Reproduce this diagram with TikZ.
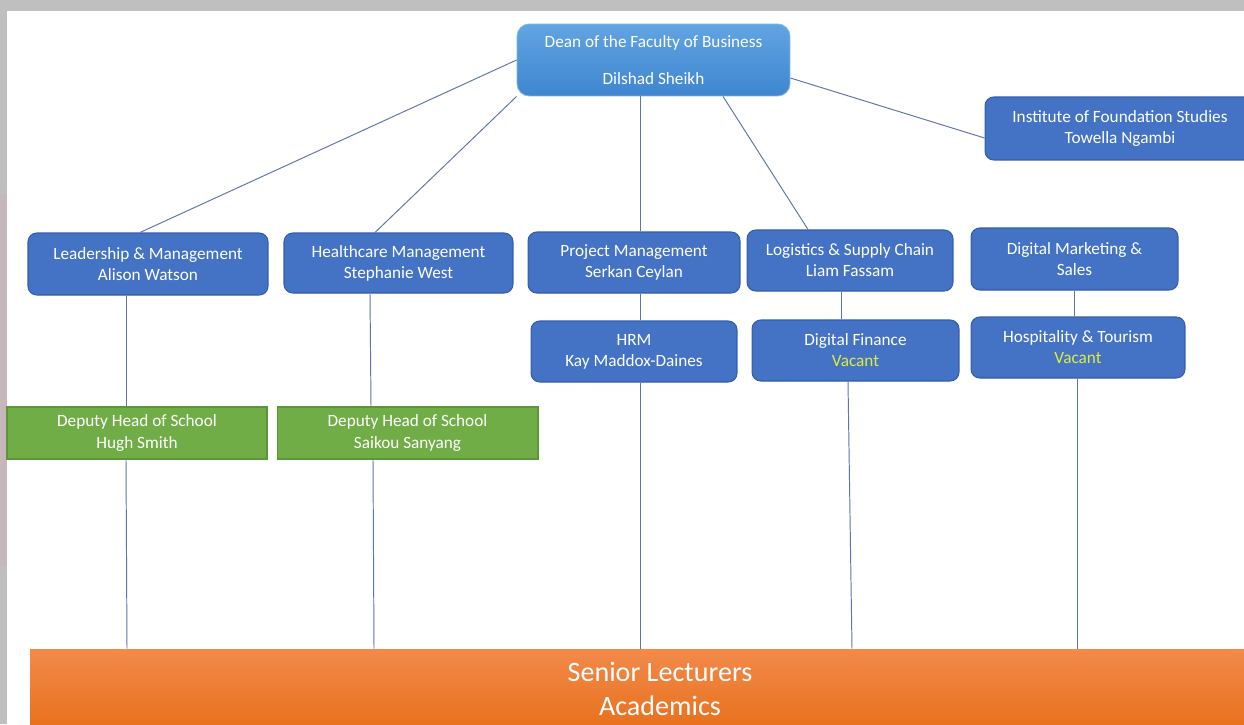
\documentclass[tikz,border=0pt]{standalone}
\usepackage{fontspec}
\setmainfont{Carlito}
\usepackage{xcolor}
\usetikzlibrary{positioning}
\definecolor{framegray}{RGB}{191, 191, 191}
\definecolor{framepink}{RGB}{198, 184, 186}
\definecolor{unitblue}{RGB}{68, 114, 196}
\definecolor{unitedge}{RGB}{52, 94, 170}
\definecolor{deantop}{RGB}{98, 164, 226}
\definecolor{deanbottom}{RGB}{62, 134, 208}
\definecolor{deputygreen}{RGB}{112, 173, 71}
\definecolor{deputyedge}{RGB}{92, 150, 56}
\definecolor{seniortop}{RGB}{242, 138, 74}
\definecolor{seniorbottom}{RGB}{232, 112, 28}
\definecolor{linkblue}{RGB}{96, 116, 172}
\definecolor{vacant}{RGB}{222, 238, 60}

\begin{document}
\begin{tikzpicture}[
    x=0.02cm, y=-0.02cm,
    every node/.style={font=\fontsize{9.8}{12}\selectfont, align=center, text=white, inner sep=2pt},
    unitbox/.style={draw=unitedge, fill=unitblue, rounded corners=5pt, minimum height=1.22cm, line width=0.6pt},
    deputybox/.style={draw=deputyedge, fill=deputygreen, minimum height=1.04cm, line width=0.6pt},
    link/.style={draw=linkblue, line width=0.55pt}
]

% Canvas and screen frame
\clip (0,0) rectangle (1244,724);
\fill[framegray] (0,0) rectangle (1244,724);
\fill[framepink] (0,195) rectangle (7,565);
\fill[white] (7,11) rectangle (1244,724);

% Top: Dean and Institute
\node[draw=deantop!80!white, top color=deantop, bottom color=deanbottom, rounded corners=7pt, minimum width=5.46cm, minimum height=1.44cm, line width=0.5pt] (dean) at (653.5,60) {Dean of the Faculty of Business\\[9pt]Dilshad Sheikh};
\node[unitbox, minimum width=5.4cm, minimum height=1.26cm] (inst) at (1120,128.5) {Institute of Foundation Studies\\Towella Ngambi};

% Row 1: Heads of department
\node[unitbox, minimum width=4.8cm, minimum height=1.24cm] (lead) at (148,264) {Leadership \& Management\\Alison Watson};
\node[unitbox, minimum width=4.58cm, minimum height=1.2cm] (health) at (398.5,263) {Healthcare Management\\Stephanie West};
\node[unitbox, minimum width=4.24cm] (proj) at (634,262.5) {Project Management\\Serkan Ceylan};
\node[unitbox, minimum width=4.12cm] (logi) at (850,260.5) {Logistics \& Supply Chain\\Liam Fassam};
\node[unitbox, minimum width=4.14cm, minimum height=1.24cm] (digm) at (1074.5,259) {Digital Marketing \&\\Sales};

% Row 2: Further departments
\node[unitbox, minimum width=4.12cm] (hrm) at (634,351.5) {HRM\\Kay Maddox-Daines};
\node[unitbox, minimum width=4.14cm] (dfin) at (855.5,350.5) {Digital Finance\\{\color{vacant}Vacant}};
\node[unitbox, minimum width=4.28cm] (hosp) at (1078,347.5) {Hospitality \& Tourism\\{\color{vacant}Vacant}};

% Row 3: Deputies
\node[deputybox, minimum width=5.2cm] (dep1) at (137,433) {Deputy Head of School\\Hugh Smith};
\node[deputybox, minimum width=5.22cm] (dep2) at (407.5,433) {Deputy Head of School\\Saikou Sanyang};

% Bottom: Academics
\node[top color=seniortop, bottom color=seniorbottom, minimum width=25.2cm, minimum height=1.6cm, font=\fontsize{16}{19}\selectfont] (senior) at (660,689) {Senior Lecturers\\Academics};

% Dean connections
\draw[link] (dean.west) -- (lead.north -| 140,0);
\draw[link] (dean.south west) -- (health.north -| 375,0);
\draw[link] (dean.south -| 640,0) -- (proj.north -| 640,0);
\draw[link] (dean.south -| 723,0) -- (logi.north -| 808,0);
\draw[link] (dean.east |- 0,78) -- (inst.west |- 0,138);

% Column connections
\draw[link] (lead.south -| 126,0) -- (dep1.north -| 126,0);
\draw[link] (dep1.south -| 126,0) -- (senior.north -| 127,0);
\draw[link] (health.south -| 370,0) -- (dep2.north -| 371,0);
\draw[link] (dep2.south -| 373,0) -- (senior.north -| 374,0);
\draw[link] (proj.south -| 640,0) -- (hrm.north -| 640,0);
\draw[link] (hrm.south -| 640,0) -- (senior.north -| 640,0);
\draw[link] (logi.south -| 841,0) -- (dfin.north -| 841,0);
\draw[link] (dfin.south -| 848,0) -- (senior.north -| 852,0);
\draw[link] (digm.south -| 1074,0) -- (hosp.north -| 1074,0);
\draw[link] (hosp.south -| 1077,0) -- (senior.north -| 1077,0);

\end{tikzpicture}
\end{document}
